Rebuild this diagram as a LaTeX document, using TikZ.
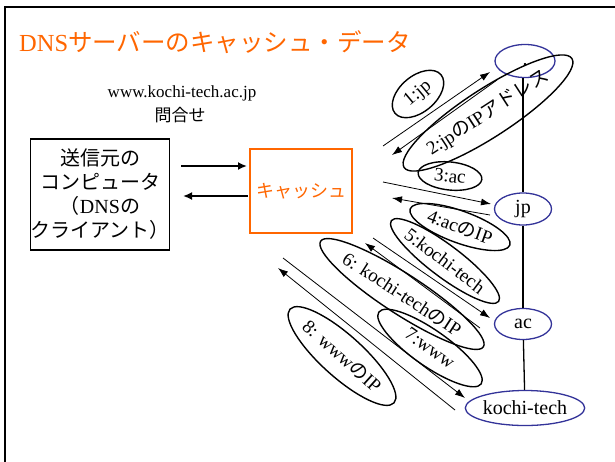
\documentclass[tikz,border=0pt]{standalone}
\usepackage{fontspec}
\setmainfont{Liberation Serif}
\newfontfamily\jp{Noto Sans CJK JP}
\usetikzlibrary{shapes.geometric,arrows.meta}
\definecolor{dnsorange}{RGB}{255,102,0}
\definecolor{treeblue}{RGB}{51,51,153}
\tikzset{
  treenode/.style={ellipse, draw=treeblue, line width=1.3pt, inner sep=0pt, font=\fontsize{20}{20}\selectfont},
  blob/.style={ellipse, draw, line width=1.4pt, inner sep=0pt, font=\fontsize{19}{19}\selectfont},
  msg/.style={-{Latex[length=10pt,width=7pt]}, line width=0.8pt},
  bigarrow/.style={-{Latex[length=9pt,width=8pt]}, line width=2.2pt},
  treeedge/.style={line width=1.3pt}
}
\begin{document}
\begin{tikzpicture}[x=1pt,y=-1pt]
\useasboundingbox (0,0) rectangle (615,461);
\clip (0,0) rectangle (615,461);
\fill[white] (0,0) rectangle (615,461);
\draw[line width=1.3pt] (5,7) rectangle (640,490);

% title
\node[anchor=west, inner sep=0pt, text=dnsorange, font=\fontsize{24.5}{24.5}\selectfont] (title) at (19,42) {DNS{\jp サーバーのキャッシュ・データ}};

% query text
\node[inner sep=0pt, font=\fontsize{17}{17}\selectfont] (q1) at (182,93) {www.kochi-tech.ac.jp};
\node[inner sep=0pt, font=\jp\fontsize{17}{17}\selectfont] (q2) at (180,115) {問合せ};

% client box
\node[draw, line width=1.3pt, minimum width=134pt, minimum height=111pt, inner sep=0pt, align=center,
      font=\fontsize{20}{24}\selectfont] (client) at (100,194.5)
  {{\jp 送信元の}\\{\jp コンピュータ}\\{\jp （}DNS{\jp の}\\{\jp クライアント）}};

% cache box
\node[draw=dnsorange, line width=1.3pt, minimum width=102pt, minimum height=84pt, inner sep=0pt,
      text=dnsorange, font=\jp\fontsize{18}{18}\selectfont] (cache) at (301,191) {キャッシュ};

\coordinate (a1s) at (181,166); \coordinate (a1e) at (247,166);
\coordinate (a2s) at (248,196); \coordinate (a2e) at (183,196);
\draw[bigarrow] (a1s) -- (a1e);
\draw[bigarrow] (a2s) -- (a2e);

% tree
\node[treenode, minimum width=60pt, minimum height=33pt] (root) at (525,61) {\vphantom{Ag}.};
\node[treenode, minimum width=57pt, minimum height=32pt] (jp) at (523,209) {jp};
\node[treenode, minimum width=57pt, minimum height=31pt] (ac) at (523,324) {ac};
\node[treenode, minimum width=106pt, minimum height=35pt] (kt) at (525,408) {kochi-tech};
\draw[treeedge] (root.south) ++(-2,0) coordinate (rs) -- (jp.north);
\draw[treeedge] (jp) -- (ac);
\draw[treeedge] (ac) -- (kt);

% message blobs
\node[blob, rotate=40, minimum width=60pt, minimum height=36pt] (b1) at (418,94) {1:jp};
\node[blob, rotate=33, minimum width=168pt, minimum height=48pt] (b2) at (488,113) {2:jp{\jp の}IP{\jp アドレス}};
\node[blob, rotate=-6, minimum width=64pt, minimum height=28pt] (b3) at (450,176) {3:ac};
\node[blob, rotate=-20, minimum width=106pt, minimum height=32pt] (b4) at (460,227) {4:ac{\jp の}IP};
\node[blob, rotate=-37, minimum width=126pt, minimum height=32pt] (b5) at (445,261) {5:kochi-tech};
\node[blob, rotate=-33, minimum width=172pt, minimum height=40pt] (b6) at (402,294) {6: kochi-tech{\jp の}IP};
\node[blob, rotate=-35, minimum width=125pt, minimum height=36pt] (b7) at (430,348) {7:www};
\node[blob, rotate=-42, minimum width=140pt, minimum height=42pt] (b8) at (342,356) {8: www{\jp の}IP};

% message arrows
\coordinate (m1s) at (383,146); \coordinate (m1e) at (490,72);
\coordinate (m2s) at (497,80);  \coordinate (m2e) at (392,155);
\coordinate (m3s) at (383,182); \coordinate (m3e) at (491,204);
\coordinate (m4s) at (490,215); \coordinate (m4e) at (392,198);
\coordinate (m5s) at (373,238); \coordinate (m5e) at (490,318);
\coordinate (m6s) at (480,328); \coordinate (m6e) at (365,243);
\coordinate (m7s) at (283,258); \coordinate (m7e) at (465,398);
\coordinate (m8s) at (455,410); \coordinate (m8e) at (278,268);
\foreach \i in {1,...,8} {\draw[msg] (m\i s) -- (m\i e);}
\end{tikzpicture}
\end{document}
